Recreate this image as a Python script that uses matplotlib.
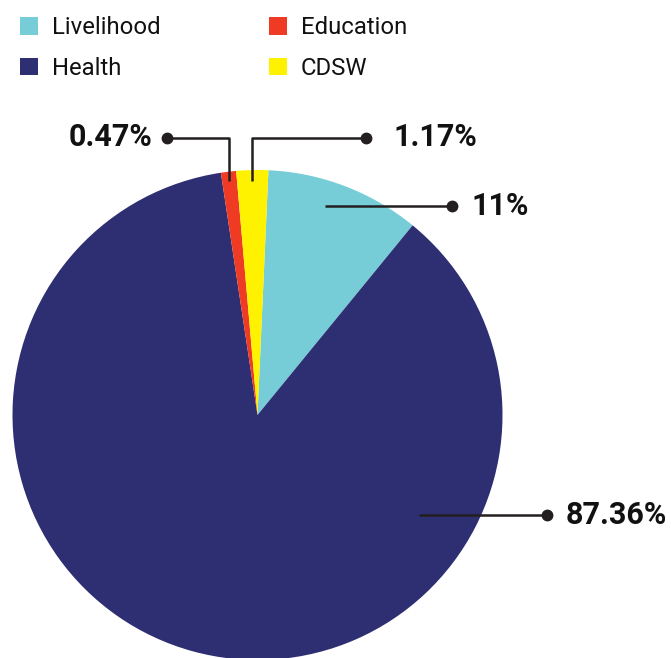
import matplotlib
matplotlib.use("Agg")
import matplotlib.pyplot as plt


# DATA
categories = ["Livelihood", "Health", "Education", "CDSW"]
shares = [10.2, 86.7, 1.0, 2.1]          # slice sizes as drawn
labels = ["11%", "87.36%", "0.47%", "1.17%"]
colors = ["#77CDD7", "#2E2E72", "#EF3B24", "#FFF200"]

plt.rcParams["font.family"] = ["Roboto", "DejaVu Sans"]

W, H = 671, 658
fig = plt.figure(figsize=(W / 100, H / 100), dpi=100)
ax = fig.add_axes([0, 0, 1, 1])

# pixel-like data coordinates, y pointing down
cx, cy, r = 257.5, 415, 245

wedges, _ = ax.pie(
    shares,
    colors=colors,
    center=(cx, cy),
    radius=r,
    startangle=-87.44,
    counterclock=True,
    frame=True,
    wedgeprops=dict(linewidth=0),
)

ax.set_xlim(0, W)
ax.set_ylim(H, 0)
ax.set_aspect("equal")
ax.axis("off")


# LEADER LINES
line_col = "#231F20"
lw = 1.8

def leader(xs, ys, text, tx, ha):
    ax.plot(xs, ys, color=line_col, lw=lw, solid_capstyle="butt", zorder=3)
    ax.plot(xs[-1], ys[-1], "o", color=line_col, ms=7.5, zorder=4)
    ax.text(tx, ys[-1], text, ha=ha, va="center", fontsize=22,
            fontweight="bold", color="#111111")

leader([325, 452], [206, 206], labels[0], 472, "left")
leader([419, 547], [515, 515], labels[1], 566, "left")
leader([228.5, 228.5, 167], [181, 137.5, 137.5], labels[2], 152, "right")
leader([251.5, 251.5, 366], [181, 137.5, 137.5], labels[3], 393, "left")


# LEGEND
order = [0, 1, 2, 3]
leg = ax.legend(
    [wedges[i] for i in order],
    [categories[i] for i in order],
    ncol=2,
    loc="upper left",
    bbox_to_anchor=(1 / W, 1 + 3 / H),
    frameon=False,
    fontsize=17.2,
    handlelength=0.75,
    handleheight=0.75,
    handletextpad=0.58,
    columnspacing=4.55,
    labelspacing=0.75,
    borderpad=0.3,
)
for t in leg.get_texts():
    t.set_color("#111111")

fig.savefig("out.png", dpi=100)
